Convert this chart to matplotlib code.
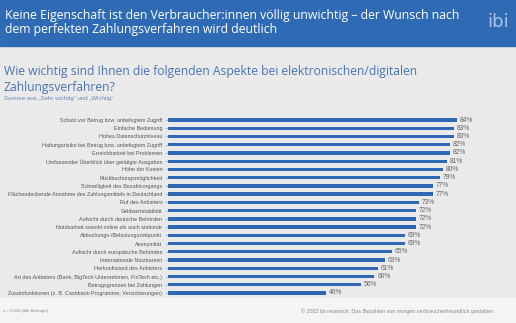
import matplotlib
matplotlib.use("Agg")
import matplotlib.pyplot as plt
from matplotlib.patches import Rectangle

categories = [
    "Schutz vor Betrug bzw. unbefugtem Zugriff",
    "Einfache Bedienung",
    "Hohes Datenschutzniveau",
    "Haftungsrisiko bei Betrug bzw. unbefugtem Zugriff",
    "Erreichbarkeit bei Problemen",
    "Umfassender Überblick über getätigte Ausgaben",
    "Höhe der Kosten",
    "Rückbuchungsmöglichkeit",
    "Schnelligkeit des Bezahlvorgangs",
    "Flächendeckende Annahme des Zahlungsmittels in Deutschland",
    "Ruf des Anbieters",
    "Geldwertstabilität",
    "Aufsicht durch deutsche Behörden",
    "Nutzbarkeit sowohl online als auch stationär",
    "Abbuchungs-/Belastungszeitpunkt",
    "Anonymität",
    "Aufsicht durch europäische Behörden",
    "Internationale Nutzbarkeit",
    "Herkunftsland des Anbieters",
    "Art des Anbieters (Bank, BigTech-Unternehmen, FinTech etc.)",
    "Betragsgrenzen bei Zahlungen",
    "Zusatzfunktionen (z. B. Cashback-Programme, Versicherungen)",
]
values = [84, 83, 83, 82, 82, 81, 80, 79, 77, 77, 73, 72, 72, 72, 69, 69, 65, 63, 61, 60, 56, 46]

W, H = 516, 323
fig = plt.figure(figsize=(W / 100, H / 100), dpi=100)
fig.patch.set_facecolor("#EAEAEA")

def fy(px):
    return 1 - px / H

def fx(px):
    return px / W

# background bands
fig.patches.append(Rectangle((0, fy(46)), 1, 46 / H, transform=fig.transFigure,
                             color="#2F6BB5", zorder=0))
fig.patches.append(Rectangle((0, 0), 1, 25 / H, transform=fig.transFigure,
                             color="#F4F4F4", zorder=0))

# header title
fig.text(fx(5), fy(15), "Keine Eigenschaft ist den Verbraucher:innen völlig unwichtig – der Wunsch nach",
         color="white", fontsize=8.8, family="Open Sans", va="center", ha="left")
fig.text(fx(5), fy(30), "dem perfekten Zahlungsverfahren wird deutlich",
         color="white", fontsize=8.8, family="Open Sans", va="center", ha="left")
fig.text(fx(498), fy(22), "ibi", color="#A9C4EA", fontsize=13, family="DejaVu Sans",
         va="center", ha="center")

# question
fig.text(fx(4), fy(72), "Wie wichtig sind Ihnen die folgenden Aspekte bei elektronischen/digitalen",
         color="#4A74B4", fontsize=8.75, family="Open Sans", va="center", ha="left")
fig.text(fx(4), fy(87), "Zahlungsverfahren?",
         color="#4A74B4", fontsize=8.75, family="Open Sans", va="center", ha="left")
fig.text(fx(4), fy(98.5), "Summe aus \u201eSehr wichtig\u201c und \u201eWichtig\u201c",
         color="#6A86B8", fontsize=4.4, family="Liberation Sans", va="center", ha="left")

# footer
fig.text(fx(3), fy(311), "n = 2.010 (alle Befragte)", color="#888888", fontsize=3.1,
         family="Liberation Sans", va="center", ha="left")
fig.text(fx(493), fy(311), "© 2022 ibi research: Das Bezahlen von morgen verbraucherfreundlich gestalten",
         color="#888888", fontsize=3.9, family="Liberation Sans", va="center", ha="right")

# chart axes
top_px, bot_px = 115.9, 297.1
ax = fig.add_axes([fx(168), fy(bot_px), fx(512) - fx(168), (bot_px - top_px) / H])
ax.set_facecolor("none")
y = list(range(len(categories)))
ax.barh(y, values, height=0.4, color="#2E67B3")
ax.set_xlim(0, 100)
ax.set_ylim(len(categories) - 0.5, -0.5)
ax.set_yticks(y)
ax.set_yticklabels(categories, fontsize=3.9, color="#555555", family="Liberation Sans")
ax.tick_params(axis="y", length=2, width=0.5, color="#AAAAAA", pad=2)
ax.set_xticks([])
for s in ax.spines.values():
    s.set_visible(False)
for yi, v in zip(y, values):
    ax.text(v + 0.8, yi, f"{v}%", fontsize=4.8, color="#666666", va="center", ha="left",
            family="Liberation Sans")

fig.savefig("out.png", dpi=100, facecolor=fig.get_facecolor())
